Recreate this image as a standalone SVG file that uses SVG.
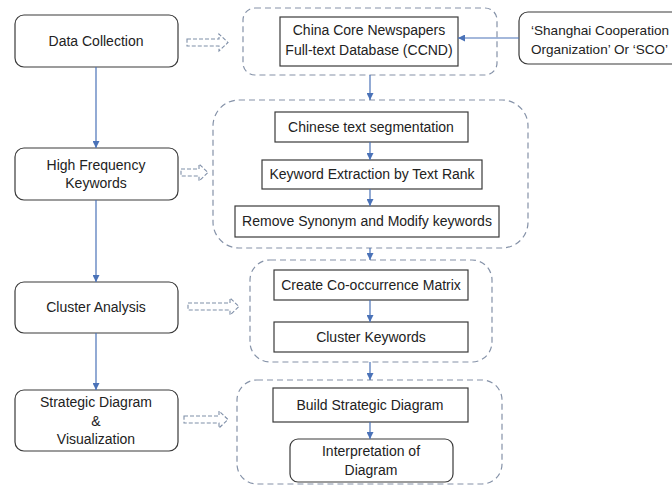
<svg xmlns="http://www.w3.org/2000/svg" width="672" height="486" viewBox="0 0 672 486">
<defs>
<marker id="ah" viewBox="0 0 10 10" refX="10" refY="5" markerWidth="7" markerHeight="7" orient="auto" markerUnits="userSpaceOnUse"><path d="M0,0 L10,5 L0,10 Z" fill="#4a72b8"/></marker>
<style>
text{font-family:"Liberation Sans","Open Sans",Arial,sans-serif;font-size:14px;fill:#222;text-anchor:middle}
.box{fill:#fff;stroke:#3a3a3a;stroke-width:1.2}
.grp{fill:none;stroke:#8592a8;stroke-width:1.2;stroke-dasharray:6 4}
.blk{fill:none;stroke:#7f8fa8;stroke-width:1.1;stroke-dasharray:4 2}
.con{stroke:#4a72b8;stroke-width:1.2;fill:none;marker-end:url(#ah)}
.st{text-anchor:start;font-size:13.5px}
</style>
</defs>
<rect width="672" height="486" fill="#fff"/>
<g id="containers">
<rect class="grp" x="243" y="8" width="254" height="67" rx="12"/>
<rect class="grp" x="213" y="100" width="315" height="148" rx="26"/>
<rect class="grp" x="250" y="260" width="242" height="102" rx="20"/>
<rect class="grp" x="237" y="380" width="265" height="104" rx="20"/>
</g>
<g id="n-data-collection"><rect class="box" x="15" y="15" width="163" height="52" rx="9"/><text x="96" y="46">Data Collection</text></g>
<g id="n-high-frequency"><rect class="box" x="15" y="148" width="163" height="52" rx="9"/><text x="96" y="170">High Frequency</text><text x="96" y="188">Keywords</text></g>
<g id="n-cluster-analysis"><rect class="box" x="15" y="282" width="163" height="51" rx="9"/><text x="96" y="312">Cluster Analysis</text></g>
<g id="n-strategic"><rect class="box" x="15" y="390" width="163" height="61" rx="9"/><text x="96" y="407">Strategic Diagram</text><text x="96" y="426">&amp;</text><text x="96" y="444">Visualization</text></g>
<g id="n-ccnd"><rect class="box" x="280" y="17" width="178" height="49"/><text x="369" y="35">China Core Newspapers</text><text x="369" y="55">Full-text Database (CCND)</text></g>
<g id="n-sco"><rect class="box" x="519" y="12" width="170" height="52" rx="9"/><text class="st" x="531" y="35" textLength="138" lengthAdjust="spacingAndGlyphs">‘Shanghai Cooperation</text><text class="st" x="531" y="54" textLength="137" lengthAdjust="spacingAndGlyphs">Organization’ Or ‘SCO’</text></g>
<g id="n-segmentation"><rect class="box" x="275" y="112" width="193" height="30"/><text x="371" y="132">Chinese text segmentation</text></g>
<g id="n-keyword-extraction"><rect class="box" x="262" y="160" width="220" height="29"/><text x="372" y="179">Keyword Extraction by Text Rank</text></g>
<g id="n-remove-synonym"><rect class="box" x="235" y="206" width="264" height="31"/><text x="367" y="226">Remove Synonym and Modify keywords</text></g>
<g id="n-cooccurrence"><rect class="box" x="274" y="270" width="194" height="30"/><text x="371" y="290">Create Co-occurrence Matrix</text></g>
<g id="n-cluster-keywords"><rect class="box" x="274" y="322" width="194" height="30"/><text x="371" y="342">Cluster Keywords</text></g>
<g id="n-build-strategic"><rect class="box" x="273" y="388" width="195" height="34"/><text x="370" y="410">Build Strategic Diagram</text></g>
<g id="n-interpretation"><rect class="box" x="290" y="439" width="163" height="43" rx="8"/><text x="371" y="456">Interpretation of</text><text x="371" y="475">Diagram</text></g>
<g id="connectors">
<line class="con" x1="96" y1="67" x2="96" y2="148"/>
<line class="con" x1="96" y1="200" x2="96" y2="282"/>
<line class="con" x1="96" y1="333" x2="96" y2="390"/>
<line class="con" x1="519" y1="38" x2="458" y2="38"/>
<line class="con" x1="370" y1="75" x2="370" y2="100"/>
<line class="con" x1="370" y1="142" x2="370" y2="160"/>
<line class="con" x1="370" y1="189" x2="370" y2="206"/>
<line class="con" x1="370" y1="248" x2="370" y2="260"/>
<line class="con" x1="370" y1="300" x2="370" y2="322"/>
<line class="con" x1="370" y1="362" x2="370" y2="380"/>
<line class="con" x1="370" y1="422" x2="370" y2="439"/>
<path class="blk" d="M187,39 H219 V34 L228,42.5 L219,51 V46 H187 Z"/>
<path class="blk" d="M181,169 H199 V164 L208,172.5 L199,181 V176 H181 Z"/>
<path class="blk" d="M188,303 H230 V298 L239,306.5 L230,315 V310 H188 Z"/>
<path class="blk" d="M184,416 H219 V411 L228,419.5 L219,428 V423 H184 Z"/>
</g>
</svg>
